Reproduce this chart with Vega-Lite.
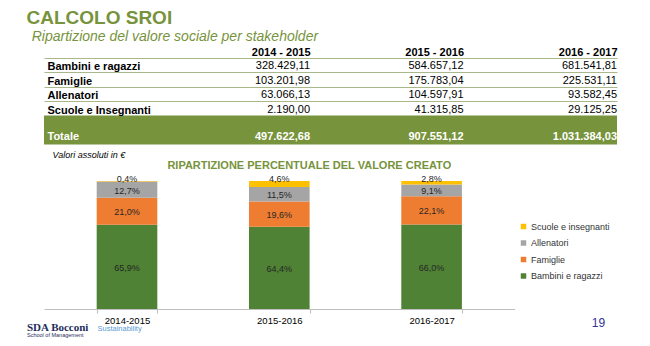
{
  "$schema": "https://vega.github.io/schema/vega-lite/v6.json",
  "background": "white",
  "padding": {"left": 26, "top": 9, "right": 0, "bottom": 0},
  "config": {
    "locale": {"number": {"decimal": ",", "thousands": ".", "grouping": [3], "currency": ["", " €"]}},
    "font": "Liberation Sans",
    "view": {"stroke": null}
  },
  "title": {"text": "CALCOLO SROI", "anchor": "start", "dx": 0, "fontSize": 19, "fontWeight": "bold", "color": "#77933C", "offset": 2},
  "datasets": {
    "table": [
      {"row": "Bambini e ragazzi", "col": "2014 - 2015", "value": 328429.11},
      {"row": "Bambini e ragazzi", "col": "2015 - 2016", "value": 584657.12},
      {"row": "Bambini e ragazzi", "col": "2016 - 2017", "value": 681541.81},
      {"row": "Famiglie", "col": "2014 - 2015", "value": 103201.98},
      {"row": "Famiglie", "col": "2015 - 2016", "value": 175783.04},
      {"row": "Famiglie", "col": "2016 - 2017", "value": 225531.11},
      {"row": "Allenatori", "col": "2014 - 2015", "value": 63066.13},
      {"row": "Allenatori", "col": "2015 - 2016", "value": 104597.91},
      {"row": "Allenatori", "col": "2016 - 2017", "value": 93582.45},
      {"row": "Scuole e Insegnanti", "col": "2014 - 2015", "value": 2190.00},
      {"row": "Scuole e Insegnanti", "col": "2015 - 2016", "value": 41315.85},
      {"row": "Scuole e Insegnanti", "col": "2016 - 2017", "value": 29125.25},
      {"row": "Totale", "col": "2014 - 2015", "value": 497622.68},
      {"row": "Totale", "col": "2015 - 2016", "value": 907551.12},
      {"row": "Totale", "col": "2016 - 2017", "value": 1031384.03}
    ],
    "shares": [
      {"year": "2014-2015", "stakeholder": "Bambini e ragazzi", "share": 0.659},
      {"year": "2014-2015", "stakeholder": "Famiglie", "share": 0.210},
      {"year": "2014-2015", "stakeholder": "Allenatori", "share": 0.127},
      {"year": "2014-2015", "stakeholder": "Scuole e insegnanti", "share": 0.004},
      {"year": "2015-2016", "stakeholder": "Bambini e ragazzi", "share": 0.644},
      {"year": "2015-2016", "stakeholder": "Famiglie", "share": 0.196},
      {"year": "2015-2016", "stakeholder": "Allenatori", "share": 0.115},
      {"year": "2015-2016", "stakeholder": "Scuole e insegnanti", "share": 0.046},
      {"year": "2016-2017", "stakeholder": "Bambini e ragazzi", "share": 0.660},
      {"year": "2016-2017", "stakeholder": "Famiglie", "share": 0.221},
      {"year": "2016-2017", "stakeholder": "Allenatori", "share": 0.091},
      {"year": "2016-2017", "stakeholder": "Scuole e insegnanti", "share": 0.028}
    ]
  },
  "spacing": 0,
  "resolve": {"legend": {"color": "independent"}},
  "vconcat": [
    {
      "width": 573,
      "height": 86.4,
      "title": {"text": "Ripartizione del valore sociale per stakeholder", "anchor": "start", "dx": -12.3, "fontSize": 14, "fontStyle": "italic", "fontWeight": "normal", "color": "#77933C", "offset": 2},
      "layer": [
        {
          "data": {"values": [{"row": " "}, {"row": "Totale"}]},
          "mark": {"type": "rect", "color": "#77933C"},
          "encoding": {
            "y": {
              "field": "row", "type": "nominal",
              "scale": {"type": "band", "domain": ["Bambini e ragazzi", "Famiglie", "Allenatori", "Scuole e Insegnanti", " ", "Totale"], "paddingInner": 0, "paddingOuter": 0},
              "axis": {
                "orient": "left", "title": null, "zindex": 1,
                "labelAlign": "left", "labelPadding": -3, "ticks": false, "tickSize": 0, "domain": false,
                "tickOffset": 7.2, "labelOffset": -2.5,
                "labelBaseline": {"condition": {"test": "datum.value === 'Totale'", "value": "bottom"}, "value": "alphabetic"},
                "labelFontWeight": "bold", "labelFontSize": 11, "labelLimit": 300,
                "labelColor": {"condition": {"test": "datum.value === 'Totale'", "value": "white"}, "value": "black"},
                "grid": true, "gridColor": "#A9B88A", "gridWidth": 1,
                "gridOpacity": {"condition": {"test": "indexof(['Scuole e Insegnanti', ' ', 'Totale'], datum.value) >= 0", "value": 0}, "value": 1}
              }
            }
          }
        },
        {
          "data": {"name": "table"},
          "transform": [{"filter": "datum.row !== 'Totale'"}],
          "mark": {"type": "text", "align": "right", "baseline": "alphabetic", "dy": -3, "fontSize": 11, "color": "black"},
          "encoding": {
            "x": {
              "field": "col", "type": "ordinal", "bandPosition": 1,
              "scale": {"type": "band", "paddingInner": 0, "paddingOuter": 0.3665, "align": 1},
              "axis": {"orient": "top", "title": null, "tickOffset": 76.75, "labelAlign": "right", "labelBaseline": "alphabetic", "labelPadding": 2.7, "ticks": false, "tickSize": 0, "domain": true, "domainColor": "#A9B88A", "domainWidth": 1, "labelFontWeight": "bold", "labelFontSize": 11, "labelColor": "black", "labelAngle": 0, "grid": false}
            },
            "y": {"field": "row", "type": "nominal", "bandPosition": 1},
            "text": {"field": "value", "type": "quantitative", "format": ",.2f"}
          }
        },
        {
          "data": {"name": "table"},
          "transform": [{"filter": "datum.row === 'Totale'"}],
          "mark": {"type": "text", "align": "right", "baseline": "alphabetic", "dy": -4, "fontSize": 11, "fontWeight": "bold", "color": "white"},
          "encoding": {
            "x": {
              "field": "col", "type": "ordinal", "bandPosition": 1,
              "axis": {"orient": "bottom", "title": "Valori assoluti in €", "labels": false, "ticks": false, "domain": false, "grid": false, "titleAnchor": "start", "titleAlign": "left", "titleX": 8, "titleY": 6.5, "titleBaseline": "top", "titleFontStyle": "italic", "titleFontWeight": "normal", "titleFontSize": 9, "titleColor": "black"}
            },
            "y": {"field": "row", "type": "nominal", "bandPosition": 1},
            "text": {"field": "value", "type": "quantitative", "format": ",.2f"}
          }
        }
      ],
      "resolve": {"axis": {"x": "independent"}}
    },
    {
      "width": 470.6,
      "height": 128,
      "title": {"text": "RIPARTIZIONE PERCENTUALE DEL VALORE CREATO", "anchor": "middle", "dx": 30, "fontSize": 11, "fontWeight": "bold", "color": "#77933C", "offset": 4},
      "data": {"name": "shares"},
      "encoding": {
        "x": {
          "field": "year", "type": "ordinal",
          "scale": {"type": "band", "paddingInner": 0.602, "paddingOuter": 0.346},
          "axis": {"title": "19", "titleX": 554, "titleY": 13.5, "titleBaseline": "middle", "titleAlign": "center", "titleColor": "#333399", "titleFontSize": 12, "titleFontWeight": "normal", "labelAngle": 0, "labelFontSize": 9.5, "labelColor": "black", "labelPadding": 2, "domainColor": "#BFBFBF", "tickColor": "#BFBFBF", "tickBand": "extent", "tickSize": 4}
        }
      },
      "layer": [
        {
          "mark": {"type": "bar"},
          "encoding": {
            "y": {
              "field": "share", "type": "quantitative", "stack": "normalize",
              "scale": {"domain": [0, 1]},
              "axis": {"title": "SDA Bocconi", "labels": false, "ticks": false, "domain": false, "grid": false, "titleAngle": 0, "titleX": -17.5, "titleY": 146.3, "titleAlign": "left", "titleBaseline": "middle", "titleFont": "Liberation Serif", "titleFontSize": 11, "titleColor": "#1F2D5C", "titleFontWeight": "bold"}
            },
            "color": {
              "field": "stakeholder", "type": "nominal",
              "scale": {"domain": ["Scuole e insegnanti", "Allenatori", "Famiglie", "Bambini e ragazzi"], "range": ["#FFC000", "#A5A5A5", "#EE7D31", "#4F8234"]},
              "legend": {"title": null, "orient": "none", "legendX": 475, "legendY": 41, "padding": 0, "symbolType": "square", "symbolSize": 30, "symbolStrokeWidth": 0, "labelFontSize": 9, "labelColor": "#333333", "labelOffset": 3, "rowPadding": 6.5}
            },
            "order": {"field": "share", "type": "quantitative", "sort": "descending"}
          }
        },
        {
          "mark": {"type": "text", "baseline": "middle", "dy": 1, "fontSize": 9, "color": "#262626"},
          "encoding": {
            "y": {"field": "share", "type": "quantitative", "stack": "normalize", "bandPosition": 0.5,
              "axis": {"title": "School of Management", "labels": false, "ticks": false, "domain": false, "grid": false, "orient": "left", "titleAngle": 0, "titleX": -17.5, "titleY": 153.6, "titleAlign": "left", "titleBaseline": "middle", "titleFontSize": 5.5, "titleColor": "#1F2D5C", "titleFontWeight": "normal"}},
            "detail": {"field": "stakeholder"},
            "order": {"field": "share", "type": "quantitative", "sort": "descending"},
            "text": {"condition": {"test": "datum.stakeholder === 'Scuole e insegnanti'", "value": ""}, "field": "share", "type": "quantitative", "format": ".1%"}
          }
        },
        {
          "transform": [{"filter": "datum.stakeholder === 'Scuole e insegnanti'"}],
          "mark": {"type": "text", "baseline": "middle", "dy": -2, "fontSize": 9, "color": "#262626"},
          "encoding": {
            "y": {"datum": 1, "type": "quantitative",
              "axis": {"title": "Sustainability", "labels": false, "ticks": false, "domain": false, "grid": false, "orient": "left", "titleAngle": 0, "titleX": 53, "titleY": 147.5, "titleAlign": "left", "titleBaseline": "middle", "titleFontSize": 7.5, "titleColor": "#5B9BD5", "titleFontWeight": "normal"}},
            "text": {"field": "share", "type": "quantitative", "format": ".1%"}
          }
        }
      ],
      "resolve": {"axis": {"y": "independent"}}
    }
  ]
}
